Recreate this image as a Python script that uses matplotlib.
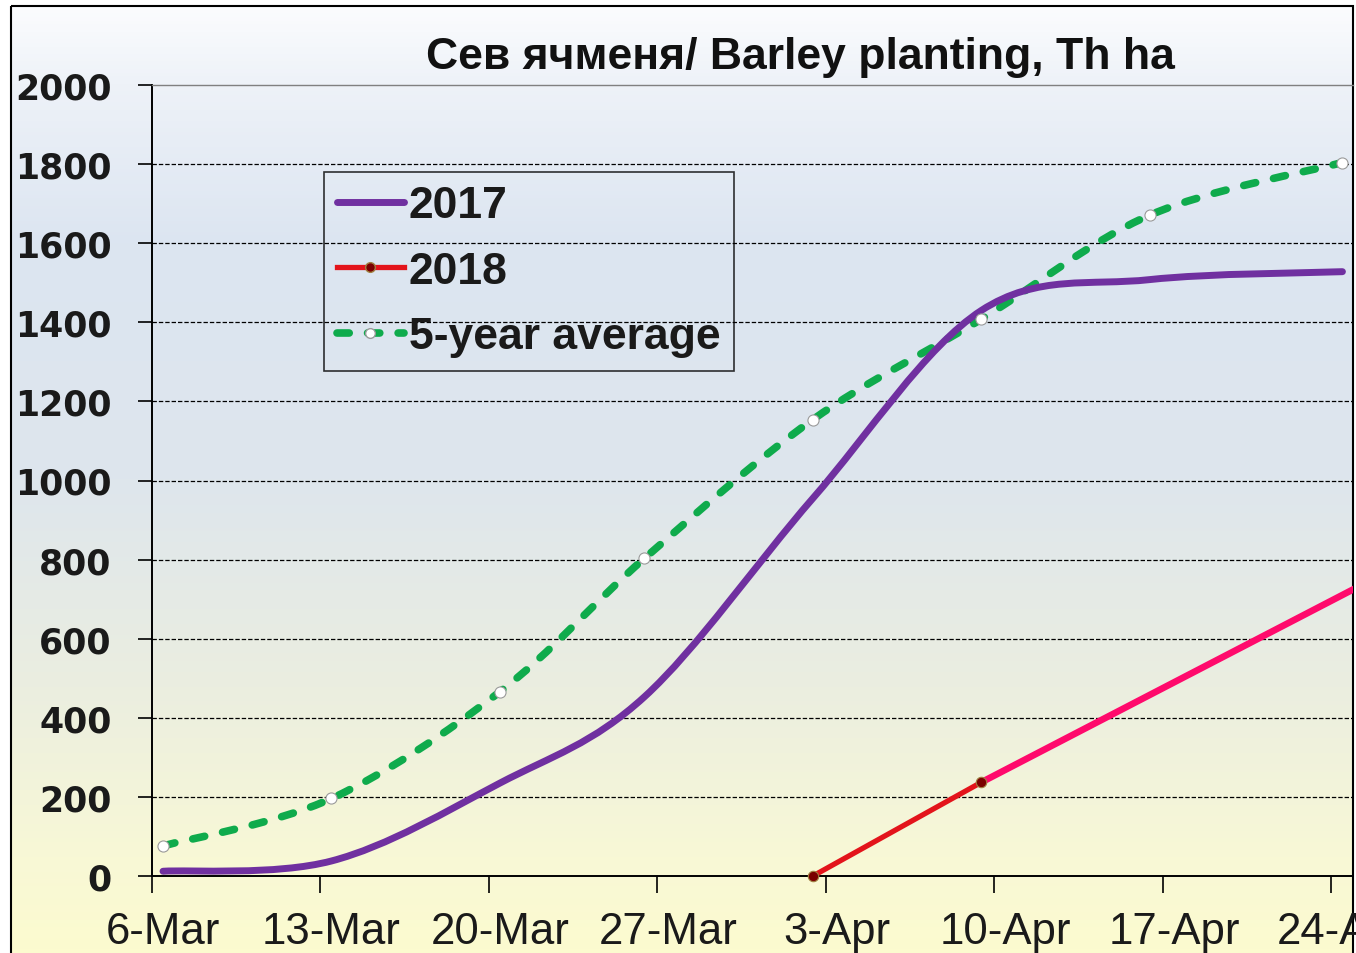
import numpy as np
import matplotlib
matplotlib.use("Agg")
import matplotlib.pyplot as plt
from matplotlib.path import Path
from matplotlib.patches import PathPatch, Rectangle
from matplotlib.lines import Line2D
from matplotlib.colors import LinearSegmentedColormap

# ---------------- data ----------------
date_labels = ["6-Mar", "13-Mar", "20-Mar", "27-Mar", "3-Apr", "10-Apr", "17-Apr", "24-Apr"]
label_days = [0, 7, 14, 21, 28, 35, 42, 49]          # days since 6-Mar

days_2017 = [0, 7, 14, 20, 27, 34, 41, 49]
vals_2017 = [12, 38, 235, 453, 955, 1430, 1508, 1528]

days_2018 = [27, 34]
vals_2018 = [0, 237]

days_2018_fc = [34, 55]
vals_2018_fc = [237, 900]

days_avg = [0, 7, 14, 20, 27, 34, 41, 49]
vals_avg = [76, 196, 466, 803, 1154, 1408, 1671, 1804]

y_ticks = [0, 200, 400, 600, 800, 1000, 1200, 1400, 1600, 1800, 2000]
title = "Сев ячменя/ Barley planting, Th ha"
legend_labels = ["2017", "2018", "5-year average"]

# ---------------- helpers ----------------
def smooth_path(xs, ys):
    """Excel-like smoothed line: Catmull-Rom converted to cubic Bezier."""
    pts = np.column_stack([xs, ys]).astype(float)
    n = len(pts)
    verts = [pts[0]]
    codes = [Path.MOVETO]
    for i in range(n - 1):
        p0 = pts[i - 1] if i > 0 else pts[i]
        p1 = pts[i]
        p2 = pts[i + 1]
        p3 = pts[i + 2] if i + 2 < n else pts[i + 1]
        c1 = p1 + (p2 - p0) / 6.0
        c2 = p2 - (p3 - p1) / 6.0
        verts += [c1, c2, p2]
        codes += [Path.CURVE4] * 3
    return Path(verts, codes)

W, H = 1356, 954
fig = plt.figure(figsize=(W / 100, H / 100), dpi=100)

# background gradient inside chart frame
bg = fig.add_axes([0, 0, 1, 1], zorder=0)
bg.set_xlim(0, W)
bg.set_ylim(H, 0)
bg.axis("off")
cmap = LinearSegmentedColormap.from_list(
    "bg",
    [(0.0, "#fbfcfe"), (0.08, "#eef2f8"), (0.25, "#dce5f1"), (0.5, "#dee6ed"),
     (0.72, "#ebeee0"), (0.9, "#f8f8d6"), (1.0, "#fcfbcf")])
grad = np.linspace(0, 1, 256).reshape(-1, 1)
bg.imshow(grad, cmap=cmap, aspect="auto", extent=(11, 1353, H, 7), zorder=0)
bg.add_patch(Rectangle((11, 7), 1342, H, fill=False, edgecolor="black", lw=1.5, zorder=1))

# main axes
L, R, T, B = 152, 1353, 86, 877
ax = fig.add_axes([L / W, 1 - B / H, (R - L) / W, (B - T) / H], zorder=2)
ax.patch.set_alpha(0)
x_left = -0.457
x_right = x_left + (R - L) / 24.07
ax.set_xlim(x_left, x_right)
ax.set_ylim(0, 2000)

# grid lines
for v in y_ticks[1:-1]:
    ax.axhline(v, color="black", lw=0.9, linestyle=(0, (3.5, 1.6)), zorder=1)

ax.spines["top"].set_color("#808080")
ax.spines["top"].set_linewidth(1.0)
ax.spines["right"].set_visible(False)
ax.spines["left"].set_linewidth(1.4)
ax.spines["bottom"].set_linewidth(1.4)

# y ticks
ax.set_yticks(y_ticks)
ax.set_yticklabels([str(v) for v in y_ticks], fontfamily="DejaVu Sans",
                   fontweight="bold", fontsize=25, color="#1a1a1a")
ax.tick_params(axis="y", direction="out", length=10, width=1.2, pad=19)

# x ticks: marks between labels, labels at dates
ax.set_xticks(label_days)
ax.set_xticklabels(date_labels, fontfamily="Liberation Sans", fontsize=31.5, color="#1a1a1a")
ax.tick_params(axis="x", which="major", length=0, pad=25)
ax.set_xticks([d + x_left for d in label_days], minor=True)
ax.tick_params(axis="x", which="minor", direction="out", length=12, width=1.2)

# 5-year average (smoothed, dashed)
green = "#0fab4c"
dash = (0, (1.6, 2.4))
pp = PathPatch(smooth_path(days_avg, vals_avg), fill=False, edgecolor=green, lw=5.5,
               linestyle=dash, capstyle="round", zorder=3)
ax.add_patch(pp)
ax.plot(days_avg, vals_avg, linestyle="none", marker="o", ms=8,
        mfc="white", mec="#9a9a9a", mew=0.8, zorder=6, clip_on=False)

# 2017 (smoothed)
purple = "#7030a0"
ax.add_patch(PathPatch(smooth_path(days_2017, vals_2017), fill=False,
                       edgecolor=purple, lw=5, capstyle="round", zorder=4))

# 2018 forecast (pink) and actual (red)
ax.plot(days_2018_fc, vals_2018_fc, color="#ff0a6c", lw=4.8, zorder=4,
        solid_capstyle="round")
ax.plot(days_2018, vals_2018, color="#e3141b", lw=3.8, marker="o", ms=7.5,
        mfc="#7a0000", mec="#a08040", mew=0.8, zorder=5, clip_on=False)

# legend
handles = [
    Line2D([], [], color=purple, lw=5, solid_capstyle="round"),
    Line2D([], [], color="#e3141b", lw=3.8, marker="o", ms=7, mfc="#7a0000", mec="#a08040"),
    Line2D([], [], color=green, lw=5.5, linestyle=dash, dash_capstyle="round",
           marker="o", ms=7, mfc="white", mec="#9a9a9a", markevery=[0]),
]
leg = ax.legend(handles, legend_labels, loc="upper left",
                bbox_to_anchor=(324 / W, 1 - 173 / H), bbox_transform=fig.transFigure,
                prop={"family": "Liberation Sans", "weight": "bold", "size": 32},
                frameon=True, fancybox=False, edgecolor="black", facecolor="none",
                borderpad=0.3, labelspacing=0.55,
                handlelength=1.49, handletextpad=0.12, borderaxespad=0)
leg.get_frame().set_linewidth(1.2)
for t in leg.get_texts():
    t.set_color("#1a1a1a")

# title
fig.text(800 / W, 1 - 57 / H, title, ha="center", va="center",
         fontfamily="Liberation Sans", fontweight="bold", fontsize=32, color="#111111")

fig.savefig("out.png", dpi=100)
